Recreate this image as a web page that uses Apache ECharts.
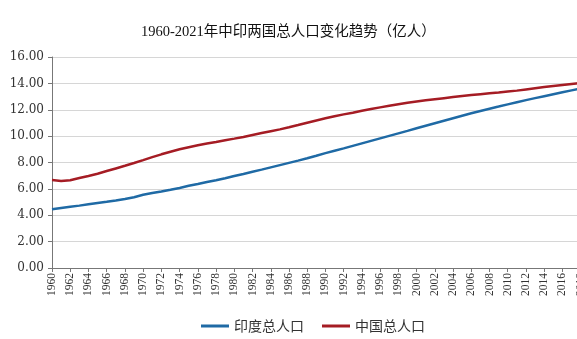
<!DOCTYPE html>
<html><head><meta charset="utf-8">
<script src="https://cdn.jsdelivr.net/npm/echarts@6/dist/echarts.min.js"></script>
<style>html,body{margin:0;padding:0;background:#fff;overflow:hidden}#c{width:610px;height:339px}</style>
</head><body><div id="c"></div>
<script>
var years = [];
for (var y = 1960; y <= 2021; y++) years.push(String(y));
var titleText = '1960-2021年中印两国总人口变化趋势（亿人）';
var seriesNames = ['印度总人口', '中国总人口'];
var india = [4.46,4.55,4.64,4.73,4.83,4.93,5.02,5.12,5.23,5.37,5.55,5.68,5.80,5.93,6.07,6.23,6.37,6.52,6.66,6.81,6.97,7.13,7.30,7.46,7.63,7.80,7.97,8.14,8.32,8.51,8.71,8.89,9.07,9.26,9.45,9.64,9.83,10.02,10.21,10.40,10.60,10.79,10.98,11.17,11.36,11.55,11.73,11.91,12.08,12.24,12.41,12.57,12.73,12.88,13.03,13.18,13.33,13.47,13.61,13.75,13.88,13.98];
var china = [6.67,6.60,6.66,6.82,6.98,7.15,7.35,7.55,7.75,7.96,8.18,8.41,8.62,8.82,9.00,9.16,9.31,9.44,9.56,9.69,9.81,9.94,10.09,10.23,10.37,10.51,10.67,10.84,11.02,11.19,11.35,11.51,11.65,11.78,11.92,12.05,12.18,12.30,12.42,12.53,12.63,12.72,12.80,12.88,12.96,13.04,13.11,13.18,13.25,13.31,13.38,13.45,13.54,13.63,13.72,13.80,13.88,13.96,14.03,14.08,14.11,14.12];
var yTicks = [0,2,4,6,8,10,12,14,16];

var chart = echarts.init(document.getElementById('c'), null, {renderer:'canvas'});
chart.setOption({
  animation: false,
  backgroundColor: '#fff',
  title: {
    text: titleText, left: 136, top: 20,
    textStyle: {fontFamily: '"Liberation Serif","Noto Sans CJK SC",serif', fontSize: 14.5, fontWeight: 'normal', color: '#111'}
  },
  legend: {
    top: 314, left: 196, itemGap: 18, itemTextGap: 4,
    icon: 'rect', itemWidth: 28, itemHeight: 3,
    textStyle: {fontFamily: '"Noto Sans CJK SC",sans-serif', fontSize: 14, color: '#333'},
    data: seriesNames
  },
  grid: {left: 52, top: 57, width: 556, height: 211, containLabel: false},
  xAxis: {
    type: 'category', data: years, boundaryGap: false,
    axisLine: {lineStyle: {color: '#777', width: 1}},
    axisTick: {interval: 1, length: 4, lineStyle: {color: '#777'}},
    axisLabel: {interval: 1, rotate: 90, margin: 5, fontSize: 11.5, color: '#333', fontFamily: '"Liberation Serif",serif'},
    splitLine: {show: false}
  },
  yAxis: {
    type: 'value', min: yTicks[0], max: yTicks[yTicks.length-1], interval: 2,
    axisLine: {show: true, lineStyle: {color: '#777'}},
    axisTick: {show: true, length: 4, lineStyle: {color: '#777'}},
    axisLabel: {formatter: function(v){return v.toFixed(2);}, fontSize: 12, color: '#333', margin: 8, fontFamily: '"DejaVu Serif",serif'},
    splitLine: {lineStyle: {color: '#d6d6d6', width: 1}}
  },
  series: [
    {name: seriesNames[0], type: 'line', data: india, showSymbol: false, symbol: 'none',
     lineStyle: {color: '#1f6aa5', width: 2.5}, itemStyle: {color: '#1f6aa5'}},
    {name: seriesNames[1], type: 'line', data: china, showSymbol: false, symbol: 'none',
     lineStyle: {color: '#a51c24', width: 2.5}, itemStyle: {color: '#a51c24'}}
  ]
});
</script></body></html>
